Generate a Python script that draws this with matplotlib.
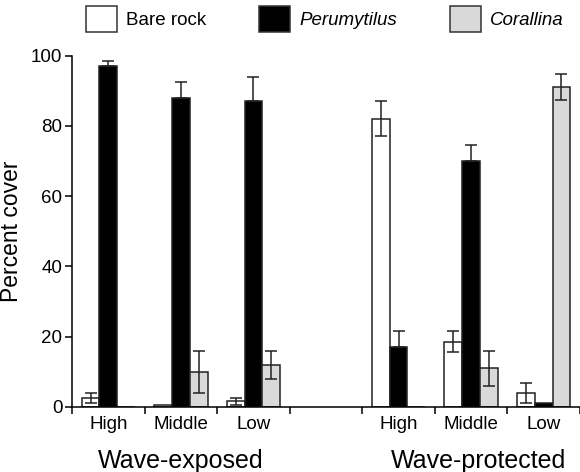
import numpy as np
import matplotlib
matplotlib.use('Agg')
import matplotlib.pyplot as plt
from matplotlib.patches import Patch

plt.rcParams['font.family'] = ['Liberation Sans', 'DejaVu Sans']

# group slots: 0-2 wave-exposed, 3 empty, 4-6 wave-protected
slots = [0, 1, 2, 4, 5, 6]
levels = ['High', 'Middle', 'Low', 'High', 'Middle', 'Low']
sites = ['Wave-exposed', 'Wave-protected']
species = ['Bare rock', 'Perumytilus', 'Corallina']

bare = [2.5, 0.5, 1.5, 82, 18.5, 4]
bare_err = [1.5, 0, 1.0, 5, 3, 2.8]
peru = [97, 88, 87, 17, 70, 1]
peru_err = [1.5, 4.5, 7, 4.5, 4.7, 0]
coral = [0, 10, 12, 0, 11, 91]
coral_err = [0, 6, 4, 0, 5, 3.7]

values = [bare, peru, coral]
errors = [bare_err, peru_err, coral_err]
fills = ['white', 'black', '#d9d9d9']

fig = plt.figure(figsize=(5.8, 4.72), dpi=100)
ax = fig.add_axes([72/580, 0.1383, 508/580, 0.882 - 0.1383])

w = 0.245
x = np.array(slots, dtype=float)
for k in range(3):
    xs = x + (k - 1) * w
    ax.bar(xs, values[k], width=w, color=fills[k], edgecolor='#222222',
           linewidth=1.1, zorder=2)
    v = np.array(values[k], dtype=float)
    e = np.array(errors[k], dtype=float)
    m = e > 0
    # black bars hide the lower half of their error bars
    lo = np.zeros_like(e[m]) if fills[k] == 'black' else e[m]
    ax.errorbar(xs[m], v[m], yerr=[lo, e[m]], fmt='none', ecolor='#222222',
                elinewidth=1.1, capsize=4.3, capthick=1.1, zorder=3)

ax.set_xlim(-0.5, -0.5 + 508/73.5)
ax.set_ylim(0, 100)
ax.set_yticks([0, 20, 40, 60, 80, 100])
ax.tick_params(axis='y', length=5, width=1.1, labelsize=13.5, pad=2)

ax.set_xticks(np.arange(-0.5, 7, 1.0))
ax.set_xticklabels([])
ax.tick_params(axis='x', which='major', length=5, width=1.1)
ax.set_xticks(slots, minor=True)
ax.set_xticklabels(levels, minor=True)
ax.tick_params(axis='x', which='minor', length=0, labelsize=13.5, pad=7)

for s in ['top', 'right']:
    ax.spines[s].set_visible(False)
for s in ['left', 'bottom']:
    ax.spines[s].set_linewidth(1.1)

ax.set_ylabel('Percent cover', fontsize=16.5, labelpad=6)

ax.text(1.0, -0.155, sites[0], transform=ax.get_xaxis_transform(),
        ha='center', va='center', fontsize=18)
ax.text(5.1, -0.155, sites[1], transform=ax.get_xaxis_transform(),
        ha='center', va='center', fontsize=18)

handles = [Patch(facecolor=fills[k], edgecolor='#333333', linewidth=1.1)
           for k in range(3)]
leg = fig.legend(handles, species, loc='upper left',
                 bbox_to_anchor=(86/580, 1 - 6/472), ncol=3, frameon=False,
                 fontsize=13.5, handlelength=1.65, handleheight=1.75,
                 handletextpad=0.5, columnspacing=2.8, borderpad=0,
                 borderaxespad=0)
for t in leg.get_texts()[1:]:
    t.set_style('italic')

fig.savefig('out.png', dpi=100)
